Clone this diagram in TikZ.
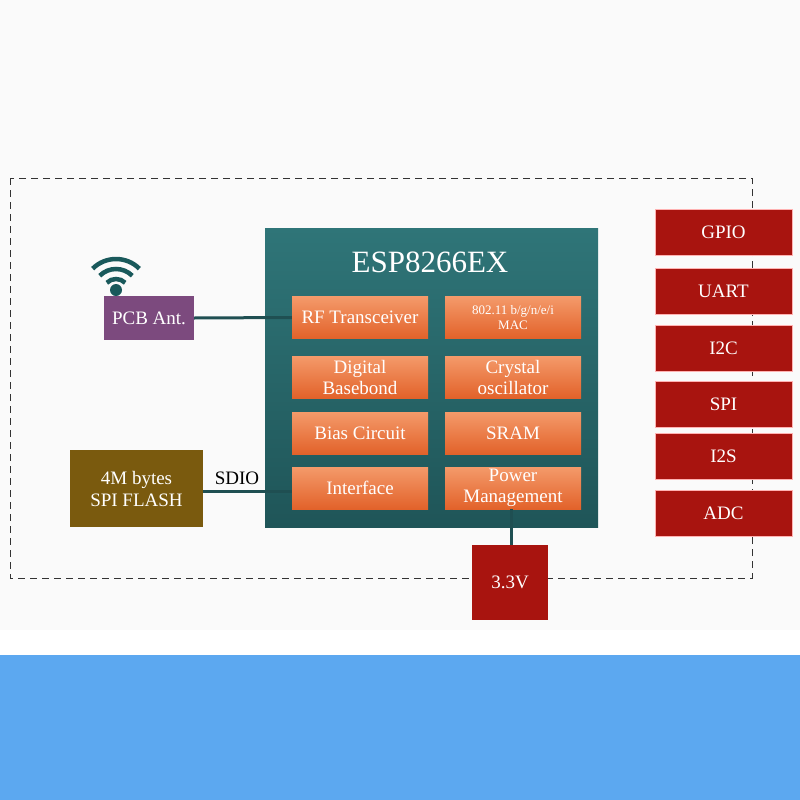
\documentclass[tikz,border=0pt]{standalone}
\usepackage{fontspec}
\setmainfont{Liberation Serif}
\definecolor{chipT}{HTML}{2F7578}
\definecolor{chipB}{HTML}{1F5558}
\definecolor{orT}{HTML}{F49A6A}
\definecolor{orB}{HTML}{E2622A}
\definecolor{redb}{HTML}{A8140F}
\definecolor{antc}{HTML}{7C4A7E}
\definecolor{flc}{HTML}{7A5A0E}
\definecolor{wirec}{HTML}{1F4F52}
\definecolor{bluebg}{HTML}{5CA8F0}
\begin{document}
\begin{tikzpicture}[x=1pt,y=-1pt,
 orb/.style={draw=none,top color=orT,bottom color=orB,minimum width=136pt,minimum height=42pt,text=white,font=\fontsize{19}{21}\selectfont,align=center,inner sep=1pt},
 red/.style={fill=redb,draw=white!70!red,minimum width=137pt,minimum height=46pt,text=white,font=\fontsize{19}{20}\selectfont},
 wire/.style={line width=3pt,draw=wirec}]
\fill[white] (0,0) rectangle (800,800);
\fill[gray!4] (0,0) rectangle (800,630);
\fill[bluebg] (0,655) rectangle (800,800);
\useasboundingbox (0,0) rectangle (800,800);
\draw[gray!40!black,line width=0.8pt,dash pattern=on 7pt off 5pt] (10,178) rectangle (752,578);
\node[draw=none,top color=chipT,bottom color=chipB,minimum width=333pt,minimum height=299pt,anchor=north west] (chip) at (265,228) {};
\node[text=white,font=\fontsize{31}{32}\selectfont] (title) at (430,262) {ESP8266EX};
\node[orb] (rf) at (360,317.5) {RF Transceiver};
\node[orb,font=\fontsize{13}{15}\selectfont] (mac) at (513,317.5) {802.11 b/g/n/e/i\\MAC};
\node[orb] (dig) at (360,377) {Digital\\Basebond};
\node[orb] (xtal) at (513,377) {Crystal\\oscillator};
\node[orb] (bias) at (360,433) {Bias Circuit};
\node[orb] (sram) at (513,433) {SRAM};
\node[orb] (intf) at (360,488) {Interface};
\node[orb] (pm) at (513,488) {Power\\Management};
\node[fill=antc,minimum width=90pt,minimum height=44pt,text=white,font=\fontsize{19}{20}\selectfont] (ant) at (149,318) {PCB Ant.};
\node[fill=flc,minimum width=133pt,minimum height=77pt,text=white,font=\fontsize{19}{22}\selectfont,align=center] (flash) at (136.5,488.5) {4M bytes\\SPI FLASH};
\node[fill=redb,minimum width=76pt,minimum height=75pt,text=white,font=\fontsize{19}{20}\selectfont] (v33) at (510,582.5) {3.3V};
\draw[wire] (ant.east) -- (rf.west);
\draw[wire] (flash.east|-0,491) -- (intf.west|-0,491);
\node[font=\fontsize{19}{20}\selectfont,text=black] (sdio) at (237,478) {SDIO};
\draw[wire] (511,509) -- (v33.north-|511,0);
% wifi icon
\fill[wirec!80!teal] (116,290) circle (6);
\foreach \r in {13,23,33}
  \draw[wirec!80!teal,line width=4.5pt] (116,292) ++(225:\r) arc[start angle=225,end angle=315,radius=\r];
\node[red] (gpio) at (723.5,232) {GPIO};
\node[red] (uart) at (723.5,291) {UART};
\node[red] (i2c) at (723.5,348) {I2C};
\node[red] (spi) at (723.5,404) {SPI};
\node[red] (i2s) at (723.5,456) {I2S};
\node[red] (adc) at (723.5,513) {ADC};
\end{tikzpicture}
\end{document}
